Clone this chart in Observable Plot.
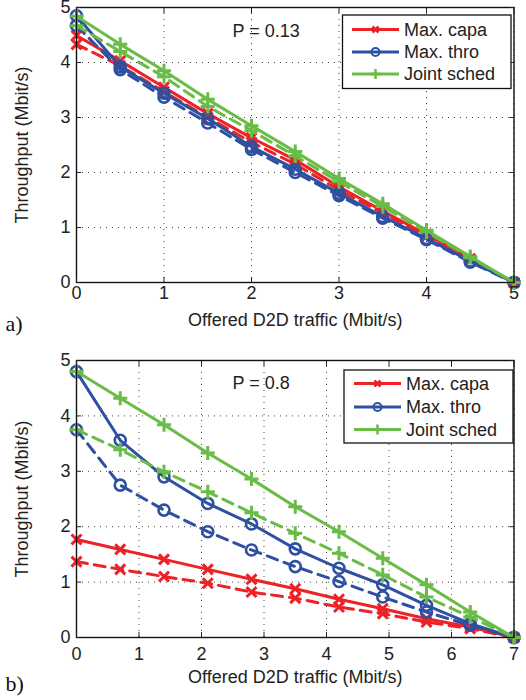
<!DOCTYPE html>
<html><head><meta charset="utf-8">
<script src="https://cdn.jsdelivr.net/npm/d3@7"></script>
<script src="https://cdn.jsdelivr.net/npm/@observablehq/plot@0.6"></script>
<style>
body{margin:0;background:#fff;}
#chart{width:526px;height:700px;position:relative;font-family:"Liberation Sans",Arial,sans-serif;}
#chart svg{display:block;overflow:visible;}
</style></head><body><div id="chart"></div>
<script>
// ---- data ----
const seriesNames = ["Max. capa", "Max. thro", "Joint sched"];
const seriesColors = ["#ec2227", "#2e50a3", "#69bc45"];
const seriesSymbols = ["times", "circle", "plus"];
const yTicks = [0, 1, 2, 3, 4, 5];

// panel a) P = 0.13
const xA = [0, 0.5, 1, 1.5, 2, 2.5, 3, 3.5, 4, 4.5, 5];
const xTicksA = [0, 1, 2, 3, 4, 5];
const capaSolidA  = [4.49, 4.03, 3.55, 3.07, 2.63, 2.23, 1.74, 1.30, 0.87, 0.43, 0];
const capaDashA   = [4.33, 3.94, 3.47, 3.00, 2.55, 2.15, 1.68, 1.26, 0.84, 0.42, 0];
const throSolidA  = [4.85, 3.92, 3.44, 2.98, 2.47, 2.06, 1.62, 1.20, 0.80, 0.39, 0];
const throDashA   = [4.67, 3.87, 3.37, 2.90, 2.42, 2.00, 1.58, 1.17, 0.78, 0.37, 0];
const jointSolidA = [4.84, 4.33, 3.85, 3.33, 2.85, 2.38, 1.89, 1.43, 0.95, 0.47, 0];
const jointDashA  = [4.67, 4.20, 3.74, 3.20, 2.76, 2.30, 1.83, 1.38, 0.92, 0.45, 0];

// panel b) P = 0.8
const xB = [0, 0.7, 1.4, 2.1, 2.8, 3.5, 4.2, 4.9, 5.6, 6.3, 7];
const xTicksB = [0, 1, 2, 3, 4, 5, 6, 7];
const capaSolidB  = [1.77, 1.59, 1.41, 1.23, 1.05, 0.88, 0.69, 0.52, 0.34, 0.19, 0];
const capaDashB   = [1.37, 1.23, 1.10, 0.98, 0.82, 0.71, 0.55, 0.43, 0.28, 0.16, 0];
const throSolidB  = [4.80, 3.56, 2.90, 2.42, 2.05, 1.60, 1.25, 0.95, 0.58, 0.25, 0];
const throDashB   = [3.75, 2.75, 2.30, 1.91, 1.58, 1.28, 1.01, 0.73, 0.46, 0.22, 0];
const jointSolidB = [4.80, 4.32, 3.84, 3.33, 2.86, 2.36, 1.91, 1.43, 0.95, 0.46, 0];
const jointDashB  = [3.75, 3.39, 2.99, 2.63, 2.25, 1.88, 1.52, 1.13, 0.73, 0.37, 0];

const xLabel = "Offered D2D traffic (Mbit/s)";
const yLabel = "Throughput (Mbit/s)";

// ---- helpers ----
const toRows = (xs, ys) => xs.map((x, i) => ({x, y: ys[i]}));
const font = "Liberation Sans, Arial, sans-serif";
const intFmt = d => String(d);

function seriesMarks(xs, solids, dashes) {
  const marks = [];
  solids.forEach((ys, i) => {
    const col = seriesColors[i];
    const sym = seriesSymbols[i];
    const rs = sym === "circle" ? 5.5 : 4.6;
    const sw = sym === "circle" ? 2.6 : 3;
    const sRows = toRows(xs, ys), dRows = toRows(xs, dashes[i]);
    marks.push(
      Plot.line(dRows, {x: "x", y: "y", stroke: col, strokeWidth: 3, strokeDasharray: "11,7"}),
      Plot.line(sRows, {x: "x", y: "y", stroke: col, strokeWidth: 3}),
      Plot.dot(dRows, {x: "x", y: "y", stroke: col, symbol: sym, r: rs, strokeWidth: sw, fill: "none"}),
      Plot.dot(sRows, {x: "x", y: "y", stroke: col, symbol: sym, r: rs, strokeWidth: sw, fill: "none"})
    );
  });
  return marks;
}

function panel(o) {
  const gridStyle = {stroke: "#222", strokeOpacity: 0.85, strokeDasharray: "1,5", strokeWidth: 1};
  const svg = Plot.plot({
    width: 526, height: o.height,
    marginLeft: 76, marginRight: 12.5, marginTop: o.marginTop, marginBottom: o.marginBottom,
    style: {fontFamily: font, fontSize: "18px", background: "white", color: "#222"},
    x: {domain: o.xDomain},
    y: {domain: [0, 5]},
    marks: [
      Plot.gridX(o.xTicks, gridStyle),
      Plot.gridY(yTicks, gridStyle),
      ...seriesMarks(o.xs, o.solids, o.dashes),
      Plot.frame({stroke: "#111", strokeWidth: 1.4}),
      Plot.axisX(o.xTicks, {anchor: "bottom", tickSize: 0, tickPadding: o.tickPad, tickFormat: intFmt, label: null, fontSize: 18}),
      Plot.axisY(yTicks, {anchor: "left", tickSize: 0, tickPadding: 6, tickFormat: intFmt, label: null, fontSize: 18}),
      Plot.axisX(o.xTicks, {anchor: "bottom", tickSize: -5, tickFormat: () => "", label: null}),
      Plot.axisX(o.xTicks, {anchor: "top", tickSize: -5, tickFormat: () => "", label: null}),
      Plot.axisY(yTicks, {anchor: "left", tickSize: -5, tickFormat: () => "", label: null}),
      Plot.axisY(yTicks, {anchor: "right", tickSize: -5, tickFormat: () => "", label: null}),
      Plot.text([xLabel], {frameAnchor: "bottom", lineAnchor: "middle", textAnchor: "middle", dy: o.xLabelDy, fontSize: 18, fill: "#222"}),
      Plot.text([yLabel], {frameAnchor: "left", lineAnchor: "middle", textAnchor: "middle", rotate: -90, dx: -54, fontSize: 18, fill: "#222"}),
      Plot.text([o.pLabel], {frameAnchor: "top-left", lineAnchor: "middle", dx: 156, dy: o.pDy, textAnchor: "start", fontSize: 18, fill: "#222"}),
      Plot.text([o.tag], {frameAnchor: "bottom-left", lineAnchor: "middle", dx: -71, dy: o.tagDy, textAnchor: "start", fontSize: 22, fontFamily: "Liberation Serif, Times New Roman, serif", fill: "#111"})
    ]
  });
  // legend box (pixel layout)
  const L = o.legend;
  const g = d3.select(svg).append("g");
  g.append("rect").attr("x", L.x).attr("y", L.y).attr("width", L.w).attr("height", L.h)
    .attr("fill", "white").attr("stroke", "#111").attr("stroke-width", 1.3);
  seriesNames.forEach((name, i) => {
    const cy = L.rows[i];
    const col = seriesColors[i];
    g.append("line").attr("x1", L.lx1).attr("x2", L.lx2).attr("y1", cy).attr("y2", cy)
      .attr("stroke", col).attr("stroke-width", 3);
    const cx = (L.lx1 + L.lx2) / 2;
    const sym = seriesSymbols[i];
    if (sym === "circle") {
      g.append("circle").attr("cx", cx).attr("cy", cy).attr("r", 4).attr("fill", "none").attr("stroke", col).attr("stroke-width", 2);
    } else if (sym === "plus") {
      g.append("path").attr("d", `M${cx-5},${cy}H${cx+5}M${cx},${cy-5}V${cy+5}`).attr("stroke", col).attr("stroke-width", 2.5);
    } else {
      g.append("path").attr("d", `M${cx-3},${cy-3}L${cx+3},${cy+3}M${cx-3},${cy+3}L${cx+3},${cy-3}`).attr("stroke", col).attr("stroke-width", 2.5);
    }
    g.append("text").attr("x", L.tx).attr("y", cy).attr("dy", "0.35em").attr("text-anchor", "start")
      .attr("font-size", 18).attr("font-family", font).attr("fill", "#222").text(name);
  });
  return svg;
}

const chart = document.getElementById("chart");
chart.append(panel({
  height: 340, marginTop: 7, marginBottom: 58,
  xs: xA, xDomain: [0, 5], xTicks: xTicksA, tickPad: 4,
  solids: [capaSolidA, throSolidA, jointSolidA], dashes: [capaDashA, throDashA, jointDashA],
  pLabel: "P = 0.13", pDy: 24, tag: "a)", tagDy: 41, xLabelDy: 38,
  legend: {x: 342.5, y: 15, w: 168.5, h: 73.5, rows: [29.5, 52, 74], lx1: 352, lx2: 399, tx: 404}
}));
chart.append(panel({
  height: 360, marginTop: 20, marginBottom: 63,
  xs: xB, xDomain: [0, 7], xTicks: xTicksB, tickPad: 10,
  solids: [capaSolidB, throSolidB, jointSolidB], dashes: [capaDashB, throDashB, jointDashB],
  pLabel: "P = 0.8", pDy: 23, tag: "b)", tagDy: 46, xLabelDy: 40,
  legend: {x: 344, y: 30, w: 169, h: 73, rows: [43.5, 67, 89.5], lx1: 354, lx2: 401, tx: 406}
}));
</script></body></html>
